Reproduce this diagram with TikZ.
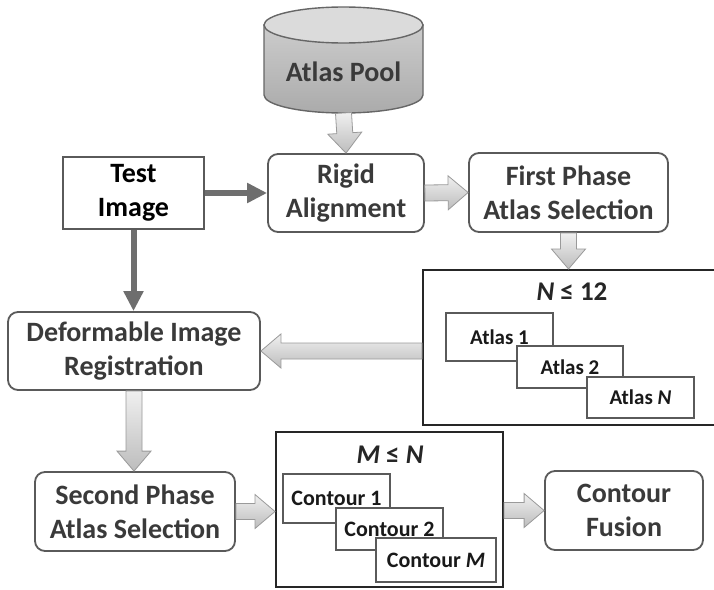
\documentclass[tikz,border=0pt]{standalone}
\usepackage{fontspec}
\setmainfont{Carlito}
\usetikzlibrary{calc,arrows.meta}
\definecolor{boxgray}{HTML}{5A5A5A}
\definecolor{txtgray}{HTML}{3A3A3A}
\definecolor{darkarr}{HTML}{6E6E6E}
\definecolor{arrline}{HTML}{9A9A9A}
\tikzset{
  rbox/.style={draw=boxgray, line width=1.8pt, rounded corners=10pt, fill=white, align=center,
    text=txtgray, font=\fontsize{28}{34}\selectfont\bfseries, inner sep=0pt},
  sbox/.style={draw=boxgray, line width=1.8pt, fill=white, align=center,
    text=black, font=\fontsize{28}{34}\selectfont\bfseries, inner sep=0pt},
  groupbox/.style={draw=black!85, line width=2pt, fill=white},
  grouplabel/.style={text=black!85, font=\fontsize{27}{30}\selectfont\bfseries, inner sep=0pt},
  itembox/.style={draw=boxgray, line width=1.5pt, fill=white, inner sep=0pt, align=center,
    text=black!90, font=\bfseries},
  atlasbox/.style={itembox, minimum width=107pt, font=\fontsize{21}{24}\selectfont\bfseries},
  contbox/.style={itembox, font=\fontsize{22}{26}\selectfont\bfseries},
  blockarrow/.style={draw=arrline, line width=0.8pt, top color=gray!12, bottom color=gray!52, line join=miter},
  darkarrow/.style={draw=darkarr, line width=6pt, -{Triangle[length=20pt,width=19pt]}},
}
\newcommand\blockarr[2]{%
  \path[blockarrow] let \p1=(#1), \p2=(#2),
    \n1={atan2(\y2-\y1,\x2-\x1)}, \n2={veclen(\x2-\x1,\y2-\y1)}, \n3={\n2-20} in
    [shift={(\p1)}, rotate=\n1]
    (0pt,-8pt) -- (\n3,-8pt) -- (\n3,-17pt) -- (\n2,0pt) -- (\n3,17pt)
    -- (\n3,8pt) -- (0pt,8pt) -- cycle;}
\begin{document}
\begin{tikzpicture}[x=1pt,y=-1pt]
\useasboundingbox (0,0) rectangle (714,589);
\clip (0,0) rectangle (714,589);
\fill[white] (0,0) rectangle (714,589);

% Atlas pool cylinder
\path[draw=gray!80!black, line width=1.4pt, top color=gray!40, bottom color=gray!66]
  (264,25) -- (264,95) arc[start angle=180, end angle=360, x radius=79.5pt, y radius=18pt]
  -- (423,25) -- cycle;
\path[draw=gray!80!black, line width=1.4pt, fill=gray!28] (343.5,25) ellipse [x radius=79.5pt, y radius=18pt];
\node[text=txtgray, font=\fontsize{28}{34}\selectfont\bfseries, inner sep=0pt] (pooltext) at (343.5,72) {Atlas Pool};
\coordinate (pool) at (343.5,113);

% main boxes
\node[sbox, minimum width=141pt, minimum height=72pt] (test) at (133.5,193) {Test\\Image};
\node[rbox, minimum width=156pt, minimum height=78pt] (rigid) at (346,193) {Rigid\\Alignment};
\node[rbox, minimum width=199pt, minimum height=79pt] (first) at (568.5,192.5) {First Phase\\Atlas Selection};
\node[rbox, minimum width=252pt, minimum height=78pt] (deform) at (134,351) {Deformable Image\\Registration};
\node[rbox, minimum width=200pt, minimum height=79pt] (second) at (135,511.5) {Second Phase\\Atlas Selection};
\node[rbox, minimum width=158pt, minimum height=79pt] (fusion) at (624,510.5) {Contour\\Fusion};

% N group
\node[groupbox, minimum width=295pt, minimum height=155pt] (nbox) at (570.5,347.5) {};
\node[grouplabel] (nlabel) at (572,292) {\textit{N} ≤ 12};
\node[atlasbox, minimum height=48pt] (a1) at (499.5,337) {Atlas 1};
\node[atlasbox, minimum width=106pt, minimum height=42pt] (a2) at (570,367) {Atlas 2};
\node[atlasbox, minimum height=41pt] (an) at (640.5,397.5) {Atlas \textit{N}};

% M group
\node[groupbox, minimum width=227pt, minimum height=155pt] (mbox) at (389.5,509.5) {};
\node[grouplabel] (mlabel) at (390,455) {\textit{M} ≤ \textit{N}};
\node[contbox, minimum width=107pt, minimum height=49pt] (c1) at (336.5,498.5) {Contour 1};
\node[contbox, minimum width=107pt, minimum height=42pt] (c2) at (389.5,529) {Contour 2};
\node[contbox, minimum width=120pt, minimum height=44pt] (cm) at (436,560) {Contour \textit{M}};

% connectors
\draw[darkarrow] (test.east) -- (rigid.west |- test.east);
\draw[darkarrow] (test.south) -- (test.south |- deform.north);
\blockarr{pool}{rigid.north}
\blockarr{rigid.east}{first.west}
\blockarr{first.south}{first.south |- nbox.north}
\blockarr{nbox.west |- deform.east}{deform.east}
\blockarr{deform.south}{deform.south |- second.north}
\blockarr{second.east}{mbox.west |- second.east}
\blockarr{mbox.east |- fusion.west}{fusion.west}
\end{tikzpicture}
\end{document}
